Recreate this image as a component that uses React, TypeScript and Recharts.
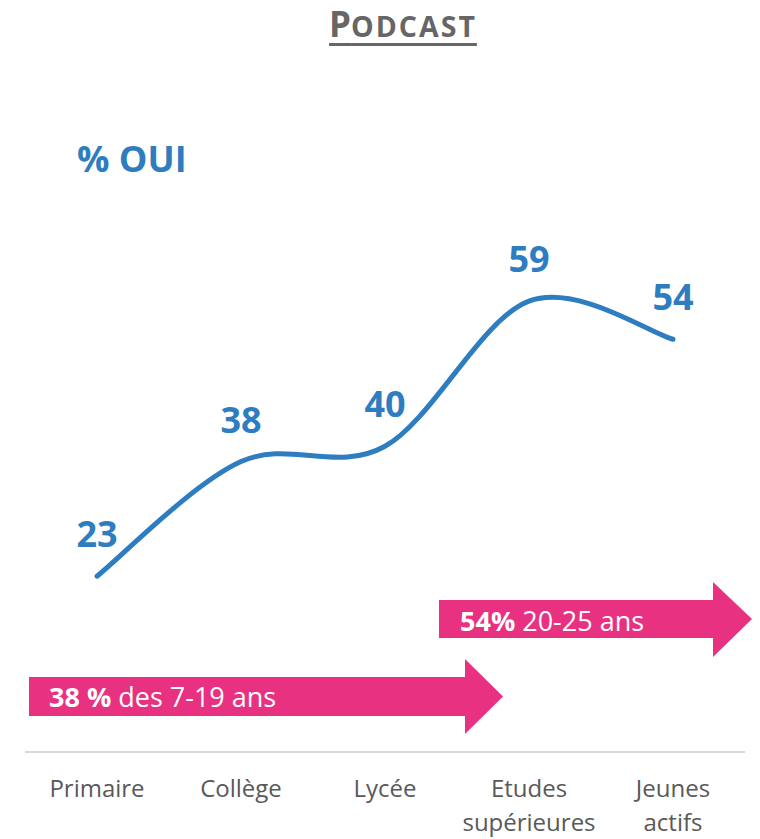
import { LineChart, Line, XAxis, YAxis, LabelList } from 'recharts';

const categories = ['Primaire', 'Collège', 'Lycée', 'Etudes\nsupérieures', 'Jeunes\nactifs'];
const ouiValues = [23, 38, 40, 59, 54];

const BLUE = '#2E7DC0';
const PINK = '#E83180';
const FONT = '"Open Sans", sans-serif';

const data = categories.map((name, i) => ({ name, oui: ouiValues[i] }));

// Excel-like smoothed line (Catmull-Rom in pixel space)
const excelSmooth = (context: any) => {
  let pts: [number, number][] = [];
  return {
    areaStart() {},
    areaEnd() {},
    lineStart() {
      pts = [];
    },
    point(x: number, y: number) {
      pts.push([+x, +y]);
    },
    lineEnd() {
      if (!pts.length) return;
      context.moveTo(pts[0][0], pts[0][1]);
      for (let i = 0; i < pts.length - 1; i++) {
        const p0 = pts[Math.max(i - 1, 0)];
        const p1 = pts[i];
        const p2 = pts[i + 1];
        const p3 = pts[Math.min(i + 2, pts.length - 1)];
        context.bezierCurveTo(
          p1[0] + (p2[0] - p0[0]) / 6,
          p1[1] + (p2[1] - p0[1]) / 6,
          p2[0] - (p3[0] - p1[0]) / 6,
          p2[1] - (p3[1] - p1[1]) / 6,
          p2[0],
          p2[1]
        );
      }
    },
  };
};

const CategoryTick = (props: any) => {
  const { x, y, payload } = props;
  const lines = String(payload.value).split('\n');
  return (
    <text x={x} y={y + 37} textAnchor="middle" fill="#595959" fontSize={24} fontFamily={FONT}>
      {lines.map((l, i) => (
        <tspan key={i} x={x} dy={i === 0 ? 0 : 34}>
          {l}
        </tspan>
      ))}
    </text>
  );
};

const Arrow = ({ x1, x2, top, bottom, headX, headTop, headBottom }: any) => {
  const mid = (top + bottom) / 2;
  const d = `M${x1},${top} L${headX},${top} L${headX},${headTop} L${x2},${mid} L${headX},${headBottom} L${headX},${bottom} L${x1},${bottom} Z`;
  return <path d={d} fill={PINK} />;
};

export default function App() {
  return (
    <div style={{ position: 'absolute', left: 0, top: 0, width: 760, height: 839, background: '#fff', fontFamily: FONT }}>
      <div
        style={{
          position: 'absolute',
          left: 0,
          width: 806,
          top: 0,
          textAlign: 'center',
          color: '#666666',
          fontWeight: 700,
          fontSize: 35,
          lineHeight: '48px',
          textDecoration: 'underline',
          textDecorationThickness: 3,
          textUnderlineOffset: 6,
        }}
      >
        <span>P</span>
        <span style={{ fontSize: 28.5, letterSpacing: 2 }}>ODCAST</span>
      </div>
      <div style={{ position: 'absolute', left: 77, top: 135, color: BLUE, fontWeight: 700, fontSize: 36, lineHeight: '48px' }}>
        % OUI
      </div>
      <LineChart width={760} height={839} data={data} margin={{ top: 217, right: 15, left: 25, bottom: 0 }}>
        <XAxis
          dataKey="name"
          height={87}
          padding={{ left: 72, right: 72 }}
          axisLine={{ stroke: '#D9D9D9', strokeWidth: 2 }}
          tickLine={false}
          interval={0}
          tick={<CategoryTick />}
        />
        <YAxis hide domain={[0, 70]} />
        <Line
          type={excelSmooth as any}
          dataKey="oui"
          stroke={BLUE}
          strokeWidth={5}
          strokeLinecap="round"
          dot={false}
          activeDot={false}
          isAnimationActive={false}
        >
          <LabelList dataKey="oui" position="top" offset={29} fill={BLUE} fontSize={36} fontWeight={700} fontFamily={FONT} />
        </Line>
      </LineChart>
      <svg width={760} height={839} style={{ position: 'absolute', left: 0, top: 0, pointerEvents: 'none' }}>
        <Arrow x1={439} x2={752} top={600} bottom={638} headX={713} headTop={582} headBottom={657} />
        <text x={460} y={631} fill="#fff" fontSize={27} fontFamily={FONT}>
          <tspan fontWeight={700}>54%</tspan> 20-25 ans
        </text>
        <Arrow x1={29} x2={503} top={677} bottom={716} headX={465} headTop={659} headBottom={734} />
        <text x={49} y={707} fill="#fff" fontSize={27} fontFamily={FONT}>
          <tspan fontWeight={700}>38 %</tspan> des 7-19 ans
        </text>
      </svg>
    </div>
  );
}
